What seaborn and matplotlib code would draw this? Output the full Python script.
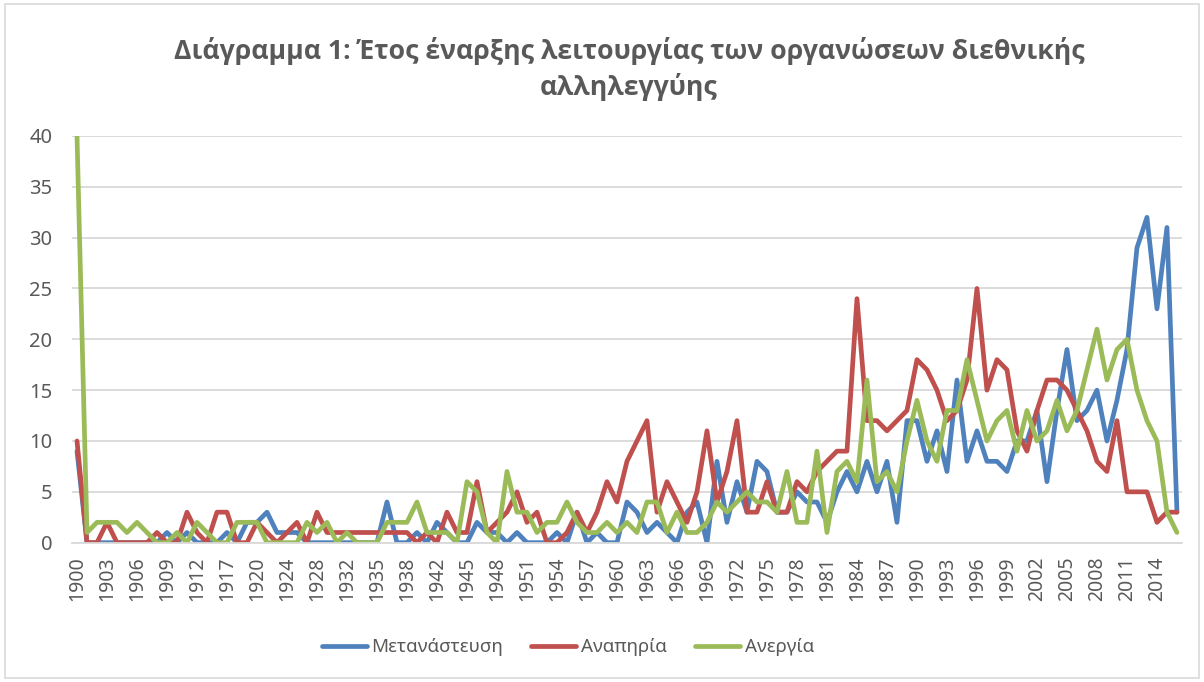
import matplotlib
matplotlib.use("Agg")
import matplotlib.pyplot as plt
import pandas as pd
import seaborn as sns
from matplotlib.patches import Rectangle

# category axis: only years that appear in the data
years = (
    [str(y) for y in range(1900, 1915)]
    + ["1917", "1918", "1919", "1920", "1921", "1922",
       "1924", "1925", "1926", "1928", "1929", "1930",
       "1932", "1933", "1934", "1935", "1936", "1937", "1938", "1939", "1940"]
    + [str(y) for y in range(1942, 2017)]
)

migration = [
    9, 0, 0, 0, 0, 0, 0, 0, 0, 1, 0, 1, 0, 0, 0, 1, 0, 2, 2, 3,
    1, 1, 1, 0, 0, 0, 0, 0, 0, 0, 0, 4, 0, 0, 1, 0, 2, 1, 0, 0,
    2, 1, 1, 0, 1, 0, 0, 0, 1, 0, 3, 0, 1, 0, 0, 4, 3, 1, 2, 1,
    0, 3, 4, 0, 8, 2, 6, 3, 8, 7, 3, 3, 5, 4, 4, 2, 5, 7, 5, 8,
    5, 8, 2, 12, 12, 8, 11, 7, 16, 8, 11, 8, 8, 7, 10, 10, 13, 6, 13, 19,
    12, 13, 15, 10, 14, 19, 29, 32, 23, 31, 3,
]
disability = [
    10, 0, 0, 2, 0, 0, 0, 0, 1, 0, 0, 3, 1, 0, 3, 3, 0, 0, 2, 1,
    0, 1, 2, 0, 3, 1, 1, 1, 1, 1, 1, 1, 1, 1, 0, 1, 0, 3, 1, 1,
    6, 1, 2, 3, 5, 2, 3, 0, 0, 1, 3, 1, 3, 6, 4, 8, 10, 12, 3, 6,
    4, 2, 5, 11, 4, 7, 12, 3, 3, 6, 3, 3, 6, 5, 7, 8, 9, 9, 24, 12,
    12, 11, 12, 13, 18, 17, 15, 12, 13, 16, 25, 15, 18, 17, 11, 9, 13, 16, 16, 15,
    13, 11, 8, 7, 12, 5, 5, 5, 2, 3, 3,
]
unemployment = [
    40, 1, 2, 2, 2, 1, 2, 1, 0, 0, 1, 0, 2, 1, 0, 0, 2, 2, 2, 0,
    0, 0, 0, 2, 1, 2, 0, 1, 0, 0, 0, 2, 2, 2, 4, 1, 1, 1, 0, 6,
    5, 1, 0, 7, 3, 3, 1, 2, 2, 4, 2, 1, 1, 2, 1, 2, 1, 4, 4, 1,
    3, 1, 1, 2, 4, 3, 4, 5, 4, 4, 3, 7, 2, 2, 9, 1, 7, 8, 6, 16,
    6, 7, 5, 10, 14, 10, 8, 13, 13, 18, 14, 10, 12, 13, 9, 13, 10, 11, 14, 11,
    13, 17, 21, 16, 19, 20, 15, 12, 10, 3, 1,
]

series_names = ["Μετανάστευση", "Αναπηρία", "Ανεργία"]
colors = ["#4F81BD", "#C0504D", "#9BBB59"]
title = "Διάγραμμα 1: Έτος έναρξης λειτουργίας των οργανώσεων διεθνικής\nαλληλεγγύης"

df = pd.DataFrame({
    "year": years,
    series_names[0]: migration,
    series_names[1]: disability,
    series_names[2]: unemployment,
}).melt(id_vars="year", var_name="series", value_name="count")

sns.set_theme(style="whitegrid")
plt.rcParams["font.family"] = ["Noto Sans", "DejaVu Sans"]
text_grey = "#595959"

fig = plt.figure(figsize=(12.04, 6.82), dpi=100)
ax = fig.add_axes([0.0598, 0.2043, 0.9219, 0.5963])

sns.lineplot(data=df, x="year", y="count", hue="series", hue_order=series_names,
             palette=colors, linewidth=3.4, sort=False, legend=False, ax=ax)

ax.set_xlim(-0.5, len(years) - 0.5)
ax.set_ylim(0, 40)
ax.set_yticks(range(0, 41, 5))
ax.set_xticks(range(0, len(years), 3))
ax.set_xticklabels(years[::3], rotation=90)
ax.tick_params(axis="x", labelsize=14, labelcolor=text_grey, pad=10, length=0)
ax.tick_params(axis="y", labelsize=14.5, labelcolor=text_grey, pad=14, length=0)
ax.set_xlabel("")
ax.set_ylabel("")
ax.grid(axis="x", visible=False)
ax.grid(axis="y", color="#d9d9d9", linewidth=1.3)
for side in ["left", "right", "top"]:
    ax.spines[side].set_visible(False)
ax.spines["bottom"].set_color("#d9d9d9")
ax.spines["bottom"].set_linewidth(1.3)

fig.text(0.5224, 0.8988, title, ha="center", va="center", fontsize=19.2,
         fontweight="bold", family=["Open Sans", "DejaVu Sans"],
         color=text_grey, linespacing=1.4)

handles = [plt.Line2D([], [], color=c, linewidth=3.4, solid_capstyle="round") for c in colors]
fig.legend(handles, series_names, loc="center", bbox_to_anchor=(0.4715, 0.051), ncol=3,
           frameon=False, fontsize=13.5, labelcolor=text_grey, handlelength=2.4,
           handletextpad=0.25, columnspacing=1.5)

fig.patches.append(Rectangle((0.004, 0.006), 0.992, 0.988, transform=fig.transFigure,
                             fill=False, edgecolor="#d9d9d9", linewidth=1.2))

fig.savefig("out.png", dpi=100)
